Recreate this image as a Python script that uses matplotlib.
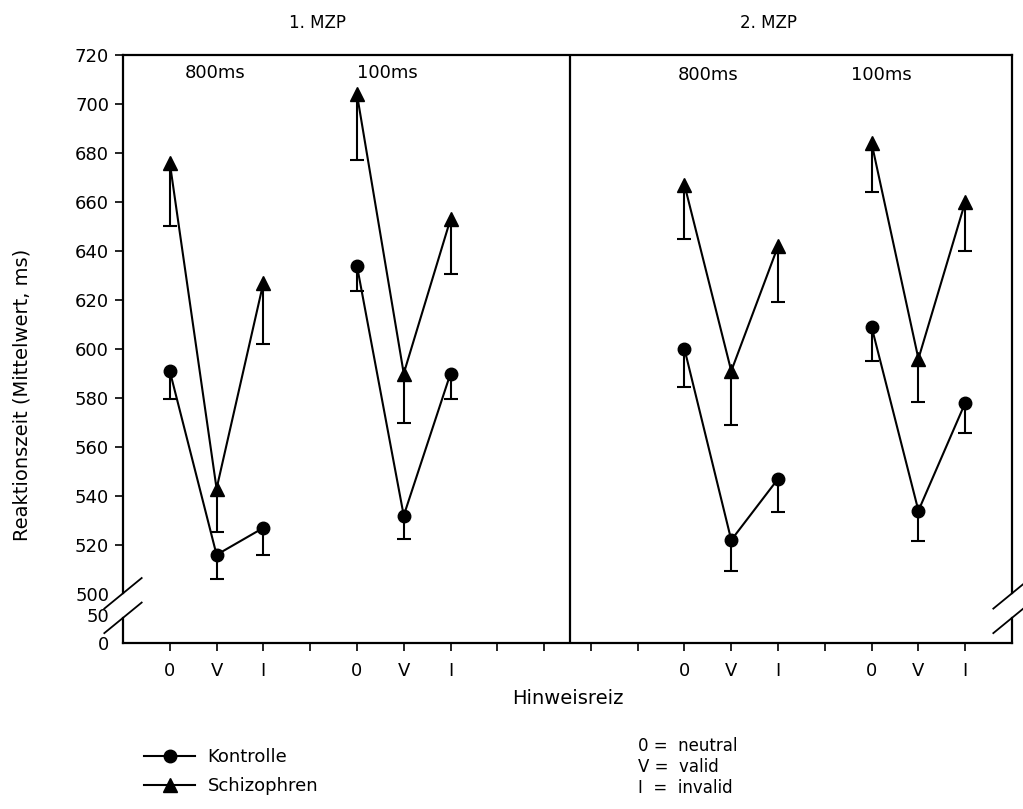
import matplotlib.pyplot as plt

# mean reaction times per condition (0 / V / I), four blocks:
# 1. MZP 800ms, 1. MZP 100ms, 2. MZP 800ms, 2. MZP 100ms
x_pos = [1, 2, 3, 5, 6, 7, 12, 13, 14, 16, 17, 18]
kontrolle = [591, 516, 527, 634, 532, 590, 600, 522, 547, 609, 534, 578]
kontrolle_err = [11.5, 10, 11, 10.5, 9.5, 10.3, 15.5, 12.5, 13.5, 14, 12.5, 12.3]
schizo = [676, 543, 627, 704, 590, 653, 667, 591, 642, 684, 596, 660]
schizo_err = [26, 17.5, 25, 27, 20, 22.5, 22, 22, 23, 20, 17.5, 20]

xtick_pos = list(range(1, 19))
xtick_labels = ["0", "V", "I", "", "0", "V", "I", "", "", "", "", "0", "V", "I", "", "0", "V", "I"]
ytick_pos = [480, 491.4, 500, 520, 540, 560, 580, 600, 620, 640, 660, 680, 700, 720]
ytick_labels = ["0", "50", "500", "520", "540", "560", "580", "600", "620", "640", "660", "680", "700", "720"]

plt.rcParams['font.family'] = ['DejaVu Sans']
plt.rcParams['font.size'] = 13

fig = plt.figure(figsize=(10.23, 8.09), dpi=100)
ax = fig.add_axes([123 / 1023, 1 - 643 / 809, 889 / 1023, 588 / 809])


def draw_group(vals, errs, marker, ms, label):
    first = None
    for g in range(4):
        xs = x_pos[g * 3:g * 3 + 3]
        ys = vals[g * 3:g * 3 + 3]
        es = errs[g * 3:g * 3 + 3]
        line, caps, bars = ax.errorbar(xs, ys, yerr=[es, [0, 0, 0]], color="black", lw=1.5,
                                       marker=marker, ms=ms, capsize=5, elinewidth=1.5,
                                       capthick=1.5, label=label)
        caps[1].set_visible(False)
        if first is None:
            first = line
    return first


h1 = draw_group(kontrolle, kontrolle_err, "o", 9, "Kontrolle")
h2 = draw_group(schizo, schizo_err, "^", 10, "Schizophren")

ax.set_xlim(0, 19)
ax.set_ylim(480, 720)
ax.set_xticks(xtick_pos)
ax.set_xticklabels(xtick_labels)
ax.set_yticks(ytick_pos)
ax.set_yticklabels(ytick_labels)
ax.tick_params(axis="x", direction="out", length=6, width=1.2, pad=8)
ax.tick_params(axis="y", direction="out", length=6, width=1.2, pad=4)
for t in ax.yaxis.get_major_ticks()[:3]:
    t.tick1line.set_visible(False)

for s in ax.spines.values():
    s.set_linewidth(1.6)
ax.spines["left"].set_visible(False)
ax.spines["right"].set_visible(False)

# broken y axis on both sides
for xa in (0, 1):
    ax.plot([xa, xa], [0.0845, 1], transform=ax.transAxes, color="black", lw=1.6, clip_on=False)
    ax.plot([xa, xa], [0, 0.0428], transform=ax.transAxes, color="black", lw=1.6, clip_on=False)
    for yc in (0.0845, 0.0428):
        ax.plot([xa - 0.021, xa + 0.021], [yc - 0.026, yc + 0.026], transform=ax.transAxes,
                color="black", lw=1.3, clip_on=False)

# divider between the two measurement points
ax.axvline(9.55, color="black", lw=1.6)

ax.text(4.15, 1.055, "1. MZP", transform=ax.get_xaxis_transform(), ha="center", va="center", fontsize=12)
ax.text(13.8, 1.055, "2. MZP", transform=ax.get_xaxis_transform(), ha="center", va="center", fontsize=12)
ax.text(1.97, 712.5, "800ms", ha="center", va="center")
ax.text(5.65, 712.5, "100ms", ha="center", va="center")
ax.text(12.5, 712, "800ms", ha="center", va="center")
ax.text(16.2, 712, "100ms", ha="center", va="center")

ax.set_xlabel("Hinweisreiz", fontsize=14, labelpad=6)
fig.text(22 / 1023, 1 - 395 / 809, "Reaktionszeit (Mittelwert, ms)", rotation=90,
         ha="center", va="center", fontsize=14)

fig.legend([h1, h2], ["Kontrolle", "Schizophren"], loc="upper left",
           bbox_to_anchor=(128 / 1023, 1 - 732 / 809), frameon=False,
           handlelength=2.8, handletextpad=0.7, labelspacing=0.62, fontsize=13)

fig.text(638 / 1023, 1 - 746 / 809, "0 =  neutral", va="center", fontsize=12)
fig.text(638 / 1023, 1 - 767 / 809, "V =  valid", va="center", fontsize=12)
fig.text(638 / 1023, 1 - 788 / 809, "I  =  invalid", va="center", fontsize=12)

fig.savefig("out.png", dpi=100)
